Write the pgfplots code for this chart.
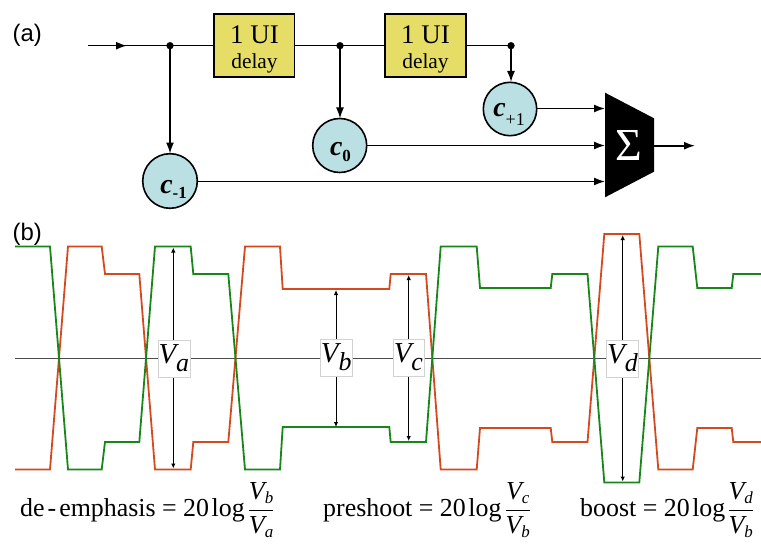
\documentclass[border=0pt]{standalone}
\usepackage{fontspec}
\setmainfont{Liberation Serif}
\newfontfamily\arialf{Liberation Sans}
\usepackage{pgfplots}
\pgfplotsset{compat=1.18}
\usetikzlibrary{arrows.meta}
\definecolor{wred}{RGB}{212,74,32}
\definecolor{wgreen}{RGB}{24,134,24}
\definecolor{boxy}{RGB}{230,221,102}
\definecolor{tapc}{RGB}{186,224,228}
\newcommand{\fs}[1]{\fontsize{#1}{#1}\selectfont}
\newcommand{\vfrac}[2]{$\displaystyle\frac{\mbox{\itshape V\raisebox{-4bp}{\fs{17}#1}}}{\mbox{\itshape V\raisebox{-4bp}{\fs{17}#2}}}$}

\begin{document}
\begin{tikzpicture}
\begin{axis}[scale only axis, width=761bp, height=544bp,
  xmin=0, xmax=761, ymin=0, ymax=544, y dir=reverse,
  hide axis, clip=false]

% ---- (a) tap structure ----
\addplot[black, line width=1.6bp] coordinates {(88,45.7)(214,45.7)};
\addplot[black, line width=1.6bp, -{Latex[length=11bp,width=8bp]}] coordinates {(88,45.7)(127,45.7)};
\addplot[black, line width=1.6bp] coordinates {(294,45.7)(385,45.7)};
\addplot[black, line width=1.6bp] coordinates {(465.7,45.7)(511,45.7)};
\addplot[black, line width=1.6bp, -{Latex[length=11bp,width=8bp]}] coordinates {(170,45.7)(170,153.5)};
\addplot[black, line width=1.6bp, -{Latex[length=11bp,width=8bp]}] coordinates {(340,45.7)(340,118.5)};
\addplot[black, line width=1.6bp, -{Latex[length=11bp,width=8bp]}] coordinates {(511,45.7)(511,82)};
\addplot[black, line width=1.6bp, -{Latex[length=11bp,width=8bp]}] coordinates {(197,181.5)(605,181.5)};
\addplot[black, line width=1.6bp, -{Latex[length=11bp,width=8bp]}] coordinates {(366.5,145.5)(605,145.5)};
\addplot[black, line width=1.6bp, -{Latex[length=11bp,width=8bp]}] coordinates {(536.5,108.5)(605,108.5)};
\addplot[black, line width=1.6bp, -{Latex[length=11bp,width=8bp]}] coordinates {(654,145.7)(695,145.7)};
\addplot[black, only marks, mark=*, mark size=3.4bp] coordinates {(170,45.7)(340,45.7)(511,45.7)};

\draw[fill=boxy, line width=1.6bp] (axis cs:214,14) rectangle (axis cs:294.3,77.3);
\draw[fill=boxy, line width=1.6bp] (axis cs:385,14) rectangle (axis cs:465.7,77.3);
\node[anchor=base, inner sep=0] at (axis cs:254.5,43.5) {\fs{27}1 UI};
\node[anchor=base, inner sep=0] at (axis cs:254.5,68.5) {\fs{21.5}delay};
\node[anchor=base, inner sep=0] at (axis cs:425.5,43.5) {\fs{27}1 UI};
\node[anchor=base, inner sep=0] at (axis cs:425.5,68.5) {\fs{21.5}delay};

\draw[fill=tapc, line width=1.6bp] (axis cs:170,181) circle[radius=27.3bp];
\draw[fill=tapc, line width=1.6bp] (axis cs:339.7,145.5) circle[radius=27bp];
\draw[fill=tapc, line width=1.6bp] (axis cs:510,109) circle[radius=26.7bp];
\node[anchor=base, inner sep=0] at (axis cs:173.5,193.5) {\fs{28}\bfseries\itshape c\raisebox{-5bp}{\fs{17}\upshape -1}};
\node[anchor=base, inner sep=0] at (axis cs:340.5,155.3) {\fs{28}\bfseries\itshape c\raisebox{-6.5bp}{\fs{17}\upshape 0}};
\node[anchor=base, inner sep=0] at (axis cs:509,116.7) {\fs{28}\bfseries\itshape c\raisebox{-9bp}{\fs{18}\mdseries\upshape +1}};

\fill (axis cs:605,92.7) -- (axis cs:654,118.3) -- (axis cs:654,171.7) -- (axis cs:605,197.3) -- cycle;
\node[white, inner sep=0] at (axis cs:628.5,145.7) {\fs{46}Σ};

\node[anchor=base west, inner sep=0] at (axis cs:12.5,41.5) {\arialf\fs{24}(a)};
\node[anchor=base west, inner sep=0] at (axis cs:12.5,240.5) {\arialf\fs{24}(b)};

% ---- (b) waveforms ----
\addplot[gray!60!black, line width=0.8bp] coordinates {(15,358.5)(761,358.5)};
\addplot[wred, line width=1.8bp] coordinates {
(15,469.5) (50,469.5) (68,246.5) (101.7,246.5) (105,274) (139.3,274) (155,469.5)
(190.7,469.5) (193.3,442) (228.3,442) (245,246.5) (280,246.5) (282.7,289)
(389.3,289) (390.7,274) (426,274) (440.7,469.5) (476.7,469.5) (480,428)
(550.7,428) (552.3,442) (587.5,442) (604.3,234) (639.3,234) (658.3,469.5)
(692.7,469.5) (697.3,428) (731.7,428) (733.3,442) (761,442)};
\addplot[wgreen, line width=1.8bp] coordinates {
(15,246.5) (50,246.5) (68,469.5) (101.7,469.5) (105,442) (139.3,442) (155,246.5)
(190.7,246.5) (193.3,274) (228.3,274) (245,469.5) (280,469.5) (282.7,427)
(389.3,427) (390.7,442) (426,442) (440.7,246.5) (476.7,246.5) (480,288)
(550.7,288) (552.3,274) (587.5,274) (604.3,482.5) (639.3,482.5) (658.3,246.5)
(692.7,246.5) (697.3,288) (731.7,288) (733.3,274) (761,274)};

\addplot[black, line width=1bp, {Latex[length=5bp,width=4.5bp]}-{Latex[length=5bp,width=4.5bp]}] coordinates {(173.3,247.5)(173.3,468.5)};
\addplot[black, line width=1bp, {Latex[length=5bp,width=4.5bp]}-{Latex[length=5bp,width=4.5bp]}] coordinates {(336,290)(336,427)};
\addplot[black, line width=1bp, {Latex[length=5bp,width=4.5bp]}-{Latex[length=5bp,width=4.5bp]}] coordinates {(408.7,275)(408.7,441)};
\addplot[black, line width=1bp, {Latex[length=5bp,width=4.5bp]}-{Latex[length=5bp,width=4.5bp]}] coordinates {(622.7,235)(622.7,481.5)};

\tikzset{vlab/.style={draw=gray!35, line width=0.6bp, fill=white, inner sep=0, minimum height=37bp}}
\node[vlab, minimum width=32bp] at (axis cs:173.8,358.5) {\fs{29}\itshape V\raisebox{-8bp}{\fs{26}a}};
\node[vlab, minimum width=32bp] at (axis cs:336.2,357.5) {\fs{29}\itshape V\raisebox{-8bp}{\fs{26}b}};
\node[vlab, minimum width=31bp] at (axis cs:408.4,357.5) {\fs{29}\itshape V\raisebox{-8bp}{\fs{26}c}};
\node[vlab, minimum width=32bp] at (axis cs:622.5,358.5) {\fs{29}\itshape V\raisebox{-8bp}{\fs{26}d}};

% ---- formulas ----
\node[anchor=base west, inner sep=0] at (axis cs:20,516.7) {\fs{26}de\kern3bp-\kern3bp emphasis = 20\kern2.5bp log\kern3bp\vfrac{b}{a}};
\node[anchor=base west, inner sep=0] at (axis cs:323,516.7) {\fs{26}preshoot = 20\kern2.5bp log\kern3bp\vfrac{c}{b}};
\node[anchor=base west, inner sep=0] at (axis cs:580,516.7) {\fs{26}boost = 20\kern2.5bp log\kern2bp\vfrac{d}{b}};
\end{axis}
\pgfresetboundingbox
\path[use as bounding box] (0,0) rectangle (761bp,544bp);
\end{tikzpicture}
\end{document}
